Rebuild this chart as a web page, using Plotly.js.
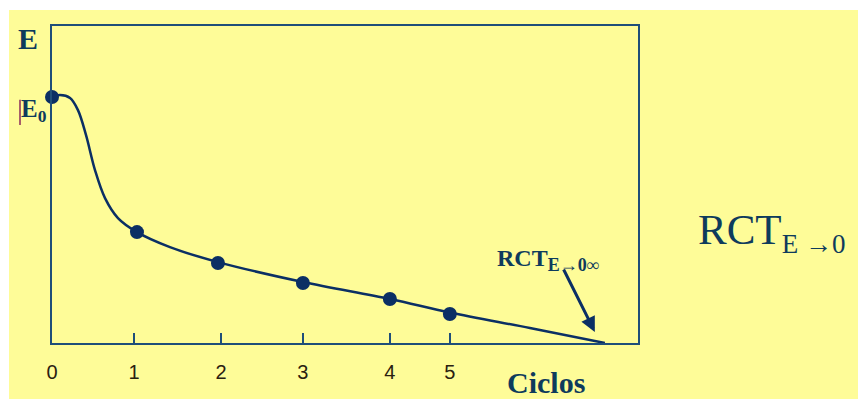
<!DOCTYPE html>
<html>
<head>
<meta charset="utf-8">
<script src="https://cdn.plot.ly/plotly-3.0.1.min.js"></script>
<style>
  html, body { margin: 0; padding: 0; background: #ffffff; width: 858px; height: 399px; overflow: hidden; }
  #chart { position: absolute; left: 9px; top: 10px; width: 849px; height: 389px; }
</style>
</head>
<body>
<div id="chart"></div>
<script>
// Measured cycle points (x position on axis, relative E with E0 = 1)
const pointX = [0, 1.018, 1.988, 3.006, 4.048, 4.766];
const pointE = [1.0, 0.451, 0.325, 0.244, 0.179, 0.118];

// Fitted curve
const curveX = [0, 0.096, 0.216, 0.311, 0.407, 0.515, 0.635, 0.79, 1.018, 1.413, 1.988, 3.006, 4.048, 4.766, 5.725, 6.623];
const curveE = [1.0, 1.008, 0.996, 0.947, 0.846, 0.703, 0.589, 0.508, 0.451, 0.39, 0.329, 0.248, 0.179, 0.124, 0.061, 0.0];

// Tick positions and labels
const tickPos = [0, 0.982, 2.024, 3.006, 4.048, 4.766];
const tickLabels = ["0", "1", "2", "3", "4", "5"];

// RCT arrow (tail -> tip)
const arrowTail = [6.12, 0.305];
const arrowTip = [6.503, 0.045];

const navy = "#0b2f64";
const frame = "#1f4e79";
const textCol = "#0e3b5c";

const traces = [
  {
    x: curveX, y: curveE, mode: "lines", type: "scatter",
    line: { color: navy, width: 2.5, shape: "spline", smoothing: 1 },
    hoverinfo: "skip", cliponaxis: false
  },
  {
    x: pointX, y: pointE, mode: "markers", type: "scatter",
    marker: { color: navy, size: 14 },
    cliponaxis: false
  }
];

const serif = "Liberation Serif, serif";
const layout = {
  width: 849, height: 389,
  margin: { l: 43, r: 220, t: 16, b: 56 },
  paper_bgcolor: "#fefc98",
  plot_bgcolor: "#fefc98",
  showlegend: false,
  xaxis: {
    range: [0, 7.02], showgrid: false, zeroline: false,
    showline: true, mirror: true, linecolor: frame, linewidth: 2,
    tickmode: "array", tickvals: tickPos, ticktext: tickLabels,
    ticks: "inside", ticklen: 10, tickwidth: 1.5, tickcolor: frame,
    ticklabelstandoff: 10,
    tickfont: { family: "Liberation Sans, Arial, sans-serif", size: 20, color: "#2a2010" }
  },
  yaxis: {
    range: [0, 1.289], showgrid: false, zeroline: false,
    showline: true, mirror: true, linecolor: frame, linewidth: 2,
    showticklabels: false, ticks: ""
  },
  shapes: [
    { type: "line", xref: "paper", yref: "paper", x0: -0.0546, x1: -0.0546, y0: 0.767, y1: 0.688,
      line: { color: "#8a2a5a", width: 1.5 } }
  ],
  annotations: [
    { xref: "paper", yref: "paper", x: -0.041, y: 0.959, xanchor: "center", yanchor: "middle",
      text: "<b>E</b>", showarrow: false,
      font: { family: serif, size: 30, color: textCol } },
    { xref: "paper", yref: "paper", x: -0.03, y: 0.735, xanchor: "center", yanchor: "middle",
      text: "<b>E<sub>0</sub></b>", showarrow: false,
      font: { family: serif, size: 25, color: textCol } },
    { xref: "paper", yref: "paper", x: 0.843, y: -0.126, xanchor: "center", yanchor: "middle",
      text: "<b>Ciclos</b>", showarrow: false,
      font: { family: serif, size: 30, color: textCol } },
    { xref: "paper", yref: "paper", x: 0.756, y: 0.262, xanchor: "left", yanchor: "middle",
      text: "<b>RCT<sub><span style=\"font-size:18px\">E→0∞</span></sub></b>", showarrow: false,
      font: { family: serif, size: 24, color: textCol } },
    { xref: "paper", yref: "paper", x: 1.099, y: 0.35, xanchor: "left", yanchor: "middle",
      text: "RCT<sub><span style=\"font-size:27px\">E →0</span></sub>", showarrow: false,
      font: { family: serif, size: 43, color: textCol } },
    { xref: "x", yref: "y", axref: "x", ayref: "y",
      x: arrowTip[0], y: arrowTip[1], ax: arrowTail[0], ay: arrowTail[1],
      text: "", showarrow: true, arrowhead: 2, arrowsize: 1, arrowwidth: 3, arrowcolor: navy }
  ]
};

Plotly.newPlot("chart", traces, layout, { displayModeBar: false, staticPlot: true });
</script>
</body>
</html>
